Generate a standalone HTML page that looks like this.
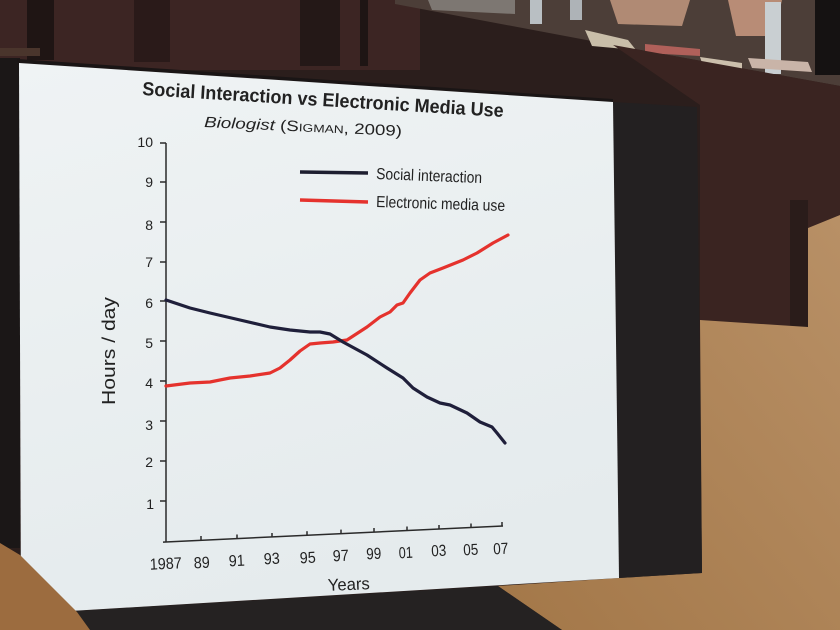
<!DOCTYPE html>
<html>
<head>
<meta charset="utf-8">
<style>
  html,body{margin:0;padding:0;background:#2b1e1c;}
  svg{display:block;}
  text{font-family:"Liberation Sans",Arial,sans-serif;fill:#222;}
</style>
</head>
<body>
<svg width="840" height="630" viewBox="0 0 840 630" xmlns="http://www.w3.org/2000/svg">
  <defs>
    <linearGradient id="slide" x1="0" y1="0" x2="0.3" y2="1">
      <stop offset="0" stop-color="#eff3f4"/>
      <stop offset="1" stop-color="#e5ebed"/>
    </linearGradient>
    <linearGradient id="floor" x1="1" y1="0" x2="0" y2="1">
      <stop offset="0" stop-color="#b89066"/>
      <stop offset="1" stop-color="#a37748"/>
    </linearGradient>
  </defs>

  <!-- base background -->
  <rect x="0" y="0" width="840" height="630" fill="#2b1e1c"/>

  <!-- wall top-left -->
  <rect x="0" y="0" width="420" height="70" fill="#3c2523"/>
  <rect x="27" y="0" width="27" height="60" fill="#1f1514"/>
  <rect x="134" y="0" width="36" height="62" fill="#2a1a19"/>
  <rect x="300" y="0" width="40" height="66" fill="#241817"/>
  <rect x="360" y="0" width="8" height="66" fill="#1e1514"/>
  <rect x="0" y="48" width="40" height="8" fill="#4a352c"/>

  <!-- table top surface with items -->
  <polygon points="395,0 840,0 840,86 613,45 395,4" fill="#4c3e38"/>
  <polygon points="428,0 515,0 515,14 432,10" fill="#7d7772"/>
  <rect x="530" y="0" width="12" height="24" fill="#b9bfc3"/>
  <rect x="570" y="0" width="12" height="20" fill="#aeb3b7"/>
  <polygon points="610,0 690,0 682,26 618,24" fill="#b08a74"/>
  <polygon points="728,0 782,0 774,36 736,36" fill="#b88c76"/>
  <polygon points="585,30 628,40 636,50 592,46" fill="#c9bea9"/>
  <polygon points="645,44 700,49 700,56 645,53" fill="#b0605a"/>
  <polygon points="700,57 742,63 742,73 704,69" fill="#cbbfac"/>
  <rect x="765" y="2" width="16" height="72" fill="#c9cfd2"/>
  <polygon points="748,58 808,62 812,72 752,68" fill="#c9b4a8"/>
  <rect x="815" y="0" width="25" height="75" fill="#151212"/>

  <!-- table front / desk on right -->
  <polygon points="613,45 840,86 840,215 808,228 808,327 700,320 700,105" fill="#3a2421"/>
  <rect x="790" y="200" width="18" height="127" fill="#2a1c1a"/>

  <!-- floor -->
  <polygon points="700,320 808,327 808,228 840,215 840,630 562,630 498,586 619,578 702,573" fill="url(#floor)"/>

  <!-- left bezel -->
  <rect x="0" y="58" width="20" height="490" fill="#1b1717"/>
  <!-- top bezel line -->
  <polygon points="17,59 613,99 613,103 17,64" fill="#1a1515"/>

  <!-- black right panel -->
  <polygon points="613,102 697,107 702,573 619,578" fill="#232021"/>

  <!-- slide -->
  <polygon points="19,63 613,102 619,578 21,614" fill="url(#slide)"/>

  <!-- stand below slide -->
  <polygon points="75,611 498,586 562,630 90,630" fill="#252222"/>
  <!-- brown object bottom-left -->
  <polygon points="0,543 20,555 50,585 77,612 90,630 0,630" fill="#9c6c3f"/>

  <!-- ===== chart ===== -->
  <!-- title -->
  <text x="142" y="95" font-size="19" font-weight="bold" textLength="362" lengthAdjust="spacingAndGlyphs" transform="rotate(3.49 142 95)">Social Interaction vs Electronic Media Use</text>
  <!-- subtitle -->
  <text x="204" y="127" font-size="15" textLength="198" lengthAdjust="spacingAndGlyphs" transform="rotate(2.6 204 127)"><tspan font-style="italic">Biologist</tspan> (<tspan font-variant="small-caps">Sigman</tspan>, 2009)</text>

  <!-- y axis -->
  <g stroke="#2a2a2a" stroke-width="1.5" fill="none">
    <line x1="166" y1="143" x2="166" y2="542"/>
    <line x1="160" y1="143" x2="166" y2="143"/>
    <line x1="160" y1="182" x2="166" y2="182"/>
    <line x1="160" y1="222" x2="166" y2="222"/>
    <line x1="160" y1="262" x2="166" y2="262"/>
    <line x1="160" y1="301" x2="166" y2="301"/>
    <line x1="160" y1="341" x2="166" y2="341"/>
    <line x1="160" y1="381" x2="166" y2="381"/>
    <line x1="160" y1="421" x2="166" y2="421"/>
    <line x1="160" y1="461" x2="166" y2="461"/>
    <line x1="160" y1="501" x2="166" y2="501"/>
  </g>
  <g font-size="14" text-anchor="end">
    <text x="153" y="147">10</text>
    <text x="153" y="187">9</text>
    <text x="153" y="230">8</text>
    <text x="153" y="267">7</text>
    <text x="153" y="308">6</text>
    <text x="153" y="348">5</text>
    <text x="153" y="388">4</text>
    <text x="153" y="430">3</text>
    <text x="153" y="467">2</text>
    <text x="154" y="509">1</text>
  </g>
  <text x="115" y="351" font-size="18" text-anchor="middle" textLength="108" lengthAdjust="spacingAndGlyphs" transform="rotate(-90 115 351)">Hours / day</text>

  <!-- x axis -->
  <g stroke="#2a2a2a" stroke-width="1.5" fill="none">
    <line x1="163" y1="542.1" x2="503" y2="526"/>
    <line x1="201" y1="540.3" x2="201" y2="536"/>
    <line x1="237" y1="538.6" x2="237" y2="534.5"/>
    <line x1="272" y1="537" x2="272" y2="533"/>
    <line x1="307" y1="535.3" x2="307" y2="531.2"/>
    <line x1="341" y1="533.7" x2="341" y2="529.6"/>
    <line x1="374" y1="532.1" x2="374" y2="528"/>
    <line x1="407" y1="530.5" x2="407" y2="526.5"/>
    <line x1="439" y1="529" x2="439" y2="525"/>
    <line x1="471" y1="527.5" x2="471" y2="523.5"/>
    <line x1="502" y1="526" x2="502" y2="522"/>
  </g>
  <g font-size="16" text-anchor="middle">
    <text x="166" y="569" textLength="32" lengthAdjust="spacingAndGlyphs" transform="rotate(-2.7 166 569)">1987</text>
    <text x="202" y="568" textLength="16" lengthAdjust="spacingAndGlyphs" transform="rotate(-2.7 202 568)">89</text>
    <text x="237" y="566" textLength="16" lengthAdjust="spacingAndGlyphs" transform="rotate(-2.7 237 566)">91</text>
    <text x="272" y="564" textLength="16" lengthAdjust="spacingAndGlyphs" transform="rotate(-2.7 272 564)">93</text>
    <text x="308" y="563" textLength="16" lengthAdjust="spacingAndGlyphs" transform="rotate(-2.7 308 563)">95</text>
    <text x="341" y="561" textLength="16" lengthAdjust="spacingAndGlyphs" transform="rotate(-2.7 341 561)">97</text>
    <text x="374" y="559" textLength="15" lengthAdjust="spacingAndGlyphs" transform="rotate(-2.7 374 559)">99</text>
    <text x="406" y="558" textLength="14" lengthAdjust="spacingAndGlyphs" transform="rotate(-2.7 406 558)">01</text>
    <text x="439" y="556" textLength="15" lengthAdjust="spacingAndGlyphs" transform="rotate(-2.7 439 556)">03</text>
    <text x="471" y="555" textLength="15" lengthAdjust="spacingAndGlyphs" transform="rotate(-2.7 471 555)">05</text>
    <text x="501" y="554" textLength="15" lengthAdjust="spacingAndGlyphs" transform="rotate(-2.7 501 554)">07</text>
  </g>
  <text x="349" y="590" font-size="17" text-anchor="middle" textLength="42" lengthAdjust="spacingAndGlyphs" transform="rotate(-2.5 349 590)">Years</text>

  <!-- legend -->
  <line x1="300" y1="172" x2="368" y2="173" stroke="#1e1e30" stroke-width="3.5"/>
  <line x1="300" y1="200" x2="368" y2="202" stroke="#e5322d" stroke-width="3.5"/>
  <text x="376" y="179" font-size="16" textLength="106" lengthAdjust="spacingAndGlyphs" transform="rotate(2.2 376 179)">Social interaction</text>
  <text x="376" y="207" font-size="16" textLength="129" lengthAdjust="spacingAndGlyphs" transform="rotate(1.8 376 207)">Electronic media use</text>

  <!-- series: electronic media use (red) -->
  <polyline fill="none" stroke="#e5322d" stroke-width="3.2" stroke-linejoin="round" stroke-linecap="round"
    points="166,386 190,383 210,382 230,378 250,376 270,373 280,368 290,360 300,351 310,344 320,343 333,342 347,340 367,327 380,317 390,312 397,305 403,303 410,293 420,280 430,273 443,268 463,260 477,253 493,243 508,235"/>
  <!-- series: social interaction (dark navy) -->
  <polyline fill="none" stroke="#1f1f3a" stroke-width="3.2" stroke-linejoin="round" stroke-linecap="round"
    points="166,300 190,308 210,313 240,320 270,327 290,330 310,332 320,332 330,334 343,342 367,355 387,368 403,378 413,388 427,397 440,403 450,405 467,413 480,422 492,427 497,433 505,443"/>
</svg>
</body>
</html>
